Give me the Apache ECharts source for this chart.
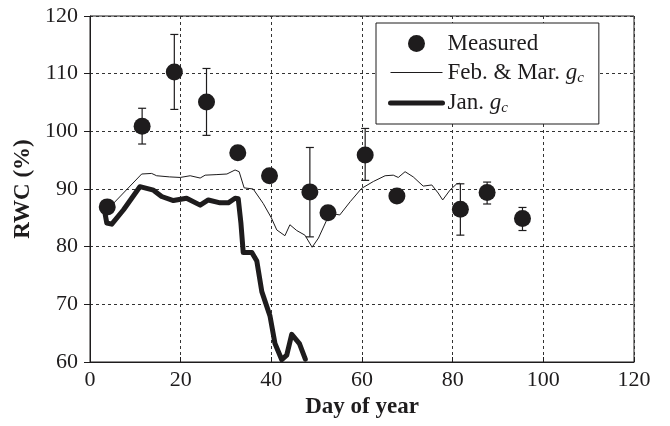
<!DOCTYPE html>
<html>
<head>
<meta charset="utf-8">
<script src="https://cdn.jsdelivr.net/npm/echarts@6/dist/echarts.min.js"></script>
<style>html,body{margin:0;padding:0;background:#fff}#c{width:670px;height:426px}</style>
</head>
<body>
<div id="c"></div>
<script>
// Measured RWC
var measDay = [3.8, 11.5, 18.6, 25.7, 32.6, 39.6, 48.5, 52.5, 60.7, 67.7, 81.7, 87.6, 95.4];
var measRWC = [86.9, 100.9, 110.3, 105.1, 96.3, 92.3, 89.5, 85.9, 95.9, 88.8, 86.5, 89.4, 84.9];
var errHigh = [null, 104.0, 116.8, 110.9, null, null, 97.2, null, 100.5, null, 90.9, 91.2, 86.8];
var errLow  = [null, 97.8, 103.8, 99.3, null, null, 81.7, null, 91.5, null, 82.0, 87.4, 82.8];

// Feb. & Mar. gc model
var febDay = [4.8, 11.4, 13.6, 14.7, 17.5, 19.9, 22.1, 24.3, 25.4, 28.0, 30.2, 32.0, 32.9, 34.0, 36.0, 38.2, 40.0, 41.2, 43.0, 44.1, 45.6, 47.4, 49.0, 50.4, 52.9, 55.1, 57.4, 59.9, 62.5, 65.1, 66.9, 68.0, 69.5, 71.3, 73.5, 75.4, 76.8, 77.8, 79.4, 80.9, 81.6];
var febRWC = [87.2, 92.6, 92.7, 92.3, 92.1, 92.0, 92.3, 91.9, 92.4, 92.5, 92.6, 93.3, 93.0, 90.2, 90.0, 87.5, 85.0, 82.9, 81.9, 83.8, 82.8, 82.0, 79.9, 81.5, 85.8, 85.5, 87.8, 90.1, 91.3, 92.3, 92.4, 92.0, 93.0, 92.1, 90.5, 90.7, 89.3, 88.1, 89.8, 90.9, 91.0];

// Jan. gc model
var janDay = [3.1, 3.7, 4.8, 7.4, 11.0, 12.5, 14.0, 15.8, 18.4, 21.3, 24.3, 26.1, 28.7, 30.5, 32.0, 32.7, 33.3, 33.8, 35.7, 36.8, 37.9, 39.7, 40.8, 42.3, 43.4, 44.5, 46.2, 47.5];
var janRWC = [86.7, 84.1, 83.9, 86.4, 90.4, 90.1, 89.8, 88.7, 88.0, 88.4, 87.2, 88.1, 87.6, 87.6, 88.4, 88.3, 84.0, 79.0, 79.0, 77.5, 72.2, 68.0, 63.2, 60.4, 61.2, 64.8, 63.2, 60.5];

var xTicks = [0, 20, 40, 60, 80, 100, 120];
var yTicks = [60, 70, 80, 90, 100, 110, 120];

function zip(a, b) { return a.map(function (v, i) { return [v, b[i]]; }); }
var errData = [];
measDay.forEach(function (d, i) { if (errHigh[i] != null) errData.push([d, errLow[i], errHigh[i]]); });

var FONT = 'Liberation Serif';
var INK = '#1e1c1d';

var chart = echarts.init(document.getElementById('c'), null, { renderer: 'canvas' });
chart.setOption({
  animation: false,
  backgroundColor: '#fff',
  textStyle: { fontFamily: FONT, color: INK },
  grid: { left: 90, right: 36, top: 16, bottom: 64, show: true, borderColor: INK, borderWidth: 1, backgroundColor: 'transparent' },
  xAxis: {
    type: 'value', min: xTicks[0], max: xTicks[xTicks.length - 1], interval: 20,
    name: 'Day of year', nameLocation: 'middle', nameGap: 30,
    nameTextStyle: { fontFamily: FONT, fontWeight: 'bold', fontSize: 23, color: INK },
    axisLine: { show: true, lineStyle: { color: INK, width: 1 } },
    axisTick: { show: true, inside: true, length: 5, lineStyle: { color: INK } },
    axisLabel: { fontFamily: FONT, fontSize: 22, color: INK, margin: 7 },
    splitLine: { show: true, lineStyle: { color: '#333', width: 1, type: [3, 3] } }
  },
  yAxis: {
    type: 'value', min: yTicks[0], max: yTicks[yTicks.length - 1], interval: 10,
    name: 'RWC (%)', nameLocation: 'middle', nameGap: 54,
    nameTextStyle: { fontFamily: FONT, fontWeight: 'bold', fontSize: 23, color: INK },
    axisLine: { show: true, lineStyle: { color: INK, width: 1 } },
    axisTick: { show: true, inside: false, length: 6, lineStyle: { color: INK } },
    axisLabel: { fontFamily: FONT, fontSize: 22, color: INK, margin: 12 },
    splitLine: { show: true, lineStyle: { color: '#333', width: 1, type: [3, 3] } }
  },
  legend: {
    orient: 'vertical', left: 376, top: 23,
    padding: [9, 15, 8, 12], itemGap: 6, itemWidth: 52, itemHeight: 17,
    backgroundColor: '#fff', borderColor: INK, borderWidth: 1,
    data: [
      { name: 'Measured', icon: 'circle' },
      { name: 'Feb. & Mar. gc', itemStyle: { opacity: 0 }, lineStyle: { width: 1, color: INK } },
      { name: 'Jan. gc', itemStyle: { opacity: 0 }, lineStyle: { width: 5, color: INK } }
    ],
    formatter: function (n) {
      if (n === 'Measured') return '{t|Measured}';
      if (n === 'Jan. gc') return '{t|Jan. }{g|g}{s|c}';
      return '{t|Feb. & Mar. }{g|g}{s|c}';
    },
    textStyle: {
      fontFamily: FONT, fontSize: 23, color: INK,
      rich: {
        t: { fontFamily: FONT, fontSize: 23, color: INK },
        g: { fontFamily: FONT, fontSize: 23, fontStyle: 'italic', color: INK },
        s: { fontFamily: FONT, fontSize: 15, fontStyle: 'italic', color: INK, padding: [11, 0, 0, 0] }
      }
    }
  },
  series: [
    {
      name: 'Feb. & Mar. gc', type: 'line', data: zip(febDay, febRWC), symbol: 'none',
      lineStyle: { color: INK, width: 1 }, itemStyle: { color: INK }, z: 2
    },
    {
      name: 'Jan. gc', type: 'line', data: zip(janDay, janRWC), symbol: 'none',
      lineStyle: { color: INK, width: 5, join: 'round', cap: 'round' }, itemStyle: { color: INK }, z: 3
    },
    {
      name: 'err', type: 'custom', data: errData, z: 4,
      renderItem: function (params, api) {
        var lo = api.coord([api.value(0), api.value(1)]);
        var hi = api.coord([api.value(0), api.value(2)]);
        var w = 4;
        var st = { stroke: INK, lineWidth: 1.2 };
        return {
          type: 'group', children: [
            { type: 'line', shape: { x1: lo[0], y1: lo[1], x2: hi[0], y2: hi[1] }, style: st },
            { type: 'line', shape: { x1: lo[0] - w, y1: lo[1], x2: lo[0] + w, y2: lo[1] }, style: st },
            { type: 'line', shape: { x1: hi[0] - w, y1: hi[1], x2: hi[0] + w, y2: hi[1] }, style: st }
          ]
        };
      }
    },
    {
      name: 'Measured', type: 'scatter', data: zip(measDay, measRWC), symbol: 'circle', symbolSize: 17,
      itemStyle: { color: INK, opacity: 1 }, z: 5
    }
  ]
});
</script>
</body>
</html>
